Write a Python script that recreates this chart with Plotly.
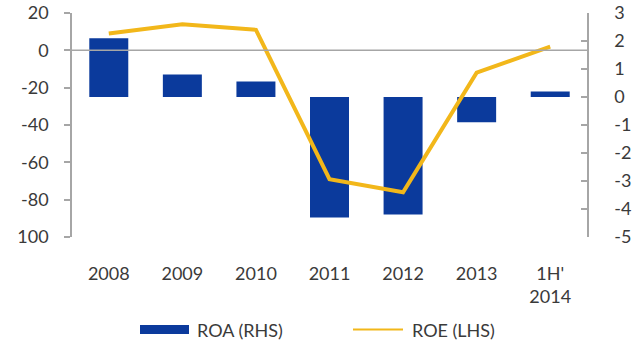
import plotly.graph_objects as go

# Periods on the category axis
periods = ["2008", "2009", "2010", "2011", "2012", "2013", "1H'<br>2014"]
# Return on assets, % (right-hand scale)
roa = [2.1, 0.8, 0.55, -4.3, -4.2, -0.9, 0.2]
# Return on equity, % (left-hand scale)
roe = [9, 14, 11, -69, -76, -12, 2]

roe_ticks = [-100, -80, -60, -40, -20, 0, 20]
roe_ticktext = ["100", "-80", "-60", "-40", "-20", "0", "20"]
roa_ticks = [-5, -4, -3, -2, -1, 0, 1, 2, 3]
roa_ticktext = ["-5", "-4", "-3", "-2", "-1", "0", "1", "2", "3"]

BLUE = "#0B3A9C"
GOLD = "#F2B71A"
AXIS = "#A6A6A6"
TEXT = "#3A3A3A"
FONT = "Lato"

# Plot-area geometry in pixels, used for placing the hand-built legend
L, R, T, B = 72, 587, 13, 237
PW, PH = R - L, B - T


def px_x(x):
    return (x - L) / PW


def px_y(y):
    return (B - y) / PH


fig = go.Figure()

fig.add_trace(go.Bar(
    x=periods, y=roa, yaxis="y", name="ROA (RHS)",
    marker=dict(color=BLUE, line=dict(width=0)),
    width=0.53, showlegend=False,
))
fig.add_trace(go.Scatter(
    x=periods, y=roe, yaxis="y2", name="ROE (LHS)", mode="lines",
    line=dict(color=GOLD, width=4), showlegend=False,
))

# Zero line of the left-hand scale, drawn across the plot above the bars
fig.add_shape(type="line", xref="paper", x0=0, x1=1, yref="y2", y0=0, y1=0,
              line=dict(color=AXIS, width=1.5), layer="above")

# Legend built from shapes and text
fig.add_shape(type="rect", xref="paper", yref="paper",
              x0=px_x(140), x1=px_x(189), y0=px_y(325), y1=px_y(334),
              fillcolor=BLUE, line=dict(width=0))
fig.add_shape(type="line", xref="paper", yref="paper",
              x0=px_x(353), x1=px_x(403), y0=px_y(329.5), y1=px_y(329.5),
              line=dict(color=GOLD, width=2))
fig.add_annotation(text="ROA (RHS)", xref="paper", yref="paper",
                   x=px_x(195), y=px_y(329.5),
                   xanchor="left", yanchor="middle", showarrow=False,
                   font=dict(family=FONT, size=18, color=TEXT))
fig.add_annotation(text="ROE (LHS)", xref="paper", yref="paper",
                   x=px_x(410), y=px_y(329.5),
                   xanchor="left", yanchor="middle", showarrow=False,
                   font=dict(family=FONT, size=18, color=TEXT))

fig.update_layout(
    width=636, height=343,
    margin=dict(l=L, r=636 - R, t=T, b=343 - B),
    paper_bgcolor="white", plot_bgcolor="white",
    font=dict(family=FONT, size=18, color=TEXT),
    xaxis=dict(
        type="category", showgrid=False, zeroline=False, showline=False,
        ticks="", tickfont=dict(family=FONT, size=18, color=TEXT),
        ticklabelstandoff=24, automargin=False,
    ),
    yaxis=dict(
        side="right", range=[-5, 3], tickvals=roa_ticks, ticktext=roa_ticktext,
        showgrid=False, zeroline=False, showline=True, linecolor=AXIS, linewidth=1.5,
        ticks="inside", ticklen=6, tickcolor=AXIS, tickwidth=1.5,
        tickfont=dict(family=FONT, size=18, color=TEXT), ticklabelstandoff=22,
        automargin=False,
    ),
    yaxis2=dict(
        side="left", overlaying="y", range=[-100, 20],
        tickvals=roe_ticks, ticktext=roe_ticktext,
        showgrid=False, zeroline=False, showline=True, linecolor=AXIS, linewidth=1.5,
        ticks="outside", ticklen=6, tickcolor=AXIS, tickwidth=1.5,
        tickfont=dict(family=FONT, size=18, color=TEXT), ticklabelstandoff=12,
        automargin=False,
    ),
)

fig.write_html("out.html")
